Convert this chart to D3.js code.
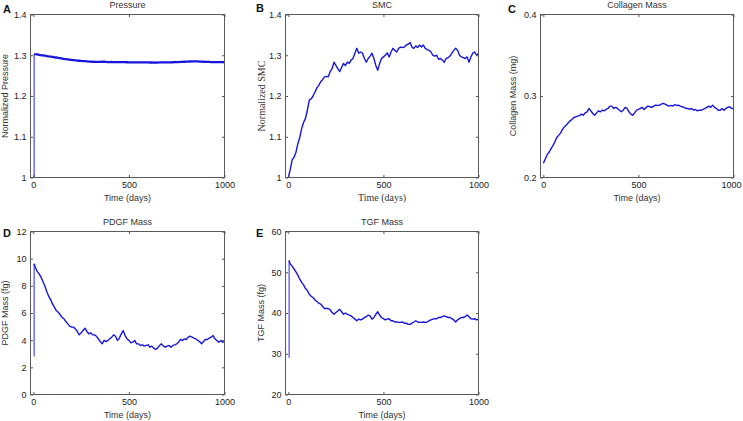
<!DOCTYPE html>
<html><head><meta charset="utf-8">
<script src="https://cdn.jsdelivr.net/npm/d3@7"></script>
<style>
body{margin:0;background:#fff}
svg{display:block;font-family:"Liberation Sans",Arial,sans-serif}
</style>
</head><body>
<svg id="chart" width="743" height="421"></svg>
<script>
// ---------------- data ----------------
const days = [0,10,20,30,40,50,60,70,80,90,100,110,120,130,140,150,160,170,180,190,
  200,210,220,230,240,250,260,270,280,290,300,310,320,330,340,350,360,370,380,390,
  400,410,420,430,440,450,460,470,480,490,500,510,520,530,540,550,560,570,580,590,
  600,610,620,630,640,650,660,670,680,690,700,710,720,730,740,750,760,770,780,790,
  800,810,820,830,840,850,860,870,880,890,900,910,920,930,940,950,960,970,980,990,1000];
const xTickValues = [0, 500, 1000];

// initial jump (day, from, to) for panels A, D, E
const jumpDay = 4;
const pressureJump = [1.0, 1.303];
const pdgfJump = [2.8, 9.62];
const tgfJump = [29.0, 52.9];

// values for days 10..1000
const pressure = [1.3025,1.302,1.301,1.300,1.2995,1.299,1.298,1.297,1.2965,1.296,
  1.295,1.2945,1.2935,1.293,1.292,1.291,1.2905,1.290,1.289,1.2885,
  1.288,1.2875,1.287,1.2865,1.286,1.2857,1.2855,1.285,1.2845,1.2842,
  1.284,1.2838,1.2836,1.2835,1.2838,1.2842,1.284,1.2836,1.2833,1.2832,
  1.2834,1.2833,1.2830,1.2831,1.2829,1.2830,1.2833,1.2831,1.2828,1.2826,
  1.2827,1.2826,1.2825,1.2826,1.2827,1.2825,1.2826,1.2824,1.2823,1.2824,
  1.2822,1.2823,1.2821,1.2822,1.2821,1.2823,1.2824,1.2823,1.2825,1.2826,
  1.2825,1.2827,1.2828,1.2830,1.2832,1.2833,1.2836,1.2838,1.2841,1.2843,
  1.2845,1.2847,1.2849,1.2850,1.2849,1.2848,1.2846,1.2843,1.2840,1.2838,
  1.2836,1.2835,1.2833,1.2832,1.2833,1.2831,1.2830,1.2829,1.2830,1.2828];

// values for days 0..1000
const smc = [1.0,1.02,1.043,1.05,1.062,1.083,1.098,1.12,1.135,1.145,
  1.165,1.19,1.193,1.2,1.21,1.22,1.226,1.235,1.24,1.247,
  1.248,1.247,1.26,1.267,1.283,1.275,1.267,1.26,1.27,1.28,
  1.275,1.283,1.28,1.288,1.292,1.305,1.317,1.305,1.308,1.305,
  1.292,1.283,1.292,1.298,1.305,1.292,1.275,1.263,1.28,1.292,
  1.296,1.3,1.306,1.296,1.308,1.317,1.312,1.308,1.317,1.32,
  1.319,1.32,1.325,1.327,1.331,1.32,1.317,1.323,1.319,1.325,
  1.32,1.325,1.317,1.314,1.312,1.308,1.3,1.298,1.3,1.29,
  1.292,1.288,1.283,1.292,1.294,1.298,1.305,1.312,1.317,1.312,
  1.3,1.296,1.294,1.292,1.296,1.283,1.296,1.305,1.308,1.3,
  1.304];

const collagen = [0.2174,0.2227,0.228,0.231,0.235,0.239,0.2434,0.2488,0.2517,0.2545,
  0.2587,0.262,0.264,0.267,0.2694,0.271,0.2736,0.2744,0.2752,0.276,
  0.2777,0.2764,0.2793,0.2806,0.2847,0.2818,0.2785,0.2764,0.2793,0.2818,
  0.2806,0.2826,0.2818,0.2835,0.2847,0.2876,0.2876,0.2847,0.286,0.2847,
  0.2826,0.2806,0.2826,0.286,0.2847,0.2806,0.2777,0.2764,0.2793,0.2826,
  0.2835,0.2847,0.286,0.2835,0.286,0.2876,0.2868,0.286,0.2876,0.2888,
  0.2884,0.2888,0.29,0.2909,0.29,0.2888,0.2876,0.2884,0.2876,0.2893,
  0.2884,0.2888,0.2876,0.2868,0.286,0.2847,0.2847,0.2835,0.2847,0.2826,
  0.2835,0.2818,0.2826,0.2826,0.2835,0.2847,0.286,0.2876,0.286,0.2888,
  0.286,0.2847,0.2826,0.2826,0.2847,0.2826,0.2847,0.286,0.2868,0.2847,
  0.2847];

// values for days 10..1000
const pdgf = [9.37,9.06,8.88,8.64,8.32,7.98,7.58,7.24,6.99,6.67,
  6.43,6.18,6.06,5.87,5.69,5.57,5.37,5.2,5.03,4.96,
  4.96,4.83,4.64,4.39,4.54,4.71,4.88,4.64,4.47,4.54,
  4.39,4.39,4.29,4.1,3.9,3.73,3.98,3.9,3.98,4.1,
  4.22,4.39,4.29,3.98,4.15,4.47,4.71,4.34,4.1,3.98,
  3.8,3.85,3.98,3.73,3.73,3.61,3.66,3.56,3.61,3.66,
  3.48,3.56,3.41,3.31,3.41,3.61,3.73,3.56,3.48,3.56,
  3.61,3.48,3.61,3.66,3.73,3.85,4.05,3.98,4.1,4.05,
  4.22,4.29,4.22,4.15,4.1,3.98,3.9,3.73,3.9,4.05,
  4.05,4.15,4.22,4.34,4.1,3.98,3.85,3.98,3.85,3.9];

const tgf = [52.0,51.5,50.8,50.1,49.3,48.3,47.5,46.9,46.0,45.5,
  44.6,44.1,43.8,43.2,42.8,42.4,42.2,41.6,41.1,41.1,
  41.1,40.8,40.1,39.7,40.1,40.5,40.9,40.3,39.7,40.0,
  39.7,39.5,39.3,38.9,38.5,38.1,38.5,38.3,38.5,38.9,
  39.1,39.5,39.3,38.5,38.9,39.7,40.3,39.5,38.9,38.6,
  38.3,38.5,38.6,38.1,38.1,37.8,37.8,37.7,37.7,37.8,
  37.5,37.5,37.2,37.2,37.5,37.8,38.1,37.8,37.7,37.7,
  37.8,37.7,37.8,38.1,38.3,38.5,38.6,38.6,38.9,38.9,
  39.1,39.3,39.1,38.9,38.9,38.6,38.3,37.8,38.3,38.6,
  38.9,38.9,39.1,39.5,39.1,38.6,38.5,38.6,38.3,38.5];

const pressureTicks = [1, 1.1, 1.2, 1.3, 1.4];
const smcTicks = [1, 1.1, 1.2, 1.3, 1.4];
const collagenTicks = [0.2, 0.3, 0.4];
const pdgfTicks = [0, 2, 4, 6, 8, 10, 12];
const tgfTicks = [20, 30, 40, 50, 60];

const titles = ["Pressure", "SMC", "Collagen Mass", "PDGF Mass", "TGF Mass"];
const yLabels = ["Normalized Pressure", "Normalized SMC", "Collagen Mass (mg)", "PDGF Mass (fg)", "TGF Mass (fg)"];
const letters = ["A", "B", "C", "D", "E"];

// ---------------- layout ----------------
const svg = d3.select("#chart");
const PH = 163;
const LINE = "#1616dc";
const SANS = '"Liberation Sans",Arial,sans-serif';
const SERIF = '"Liberation Serif","Times New Roman",serif';

function pts(dayArr, vals) { return vals.map((v, i) => [dayArr[i], v]); }

const panels = [
  {left: 30.5, top: 14.5, pw: 194, ticks: pressureTicks, data: [[jumpDay, pressureJump[1]]].concat(pts(days.slice(1), pressure)),
   jump: pressureJump, sw: 2.3, ylOff: 22.2, serif: false, letterX: 3, letterY: 12.7, lastDx: 0},
  {left: 285.5, top: 14.5, pw: 193, ticks: smcTicks, data: pts(days, smc), jump: null, sw: 1.4, ylOff: 20.5, serif: true, letterX: 256, letterY: 12, lastDx: 0},
  {left: 540.5, top: 14.5, pw: 193, ticks: collagenTicks, data: pts(days, collagen), jump: null, sw: 1.4, ylOff: 24.5, serif: false, letterX: 508, letterY: 12.7, lastDx: -2.5},
  {left: 30.5, top: 231.5, pw: 194, ticks: pdgfTicks, data: [[jumpDay, pdgfJump[1]]].concat(pts(days.slice(1), pdgf)),
   jump: pdgfJump, sw: 1.4, ylOff: 22.5, serif: false, letterX: 3, letterY: 237.3, lastDx: 0},
  {left: 285.5, top: 231.5, pw: 193, ticks: tgfTicks, data: [[jumpDay, tgfJump[1]]].concat(pts(days.slice(1), tgf)),
   jump: tgfJump, sw: 1.4, ylOff: 21.5, serif: false, letterX: 256, letterY: 237.3, lastDx: 0}
];

const fmt = d3.format("~g");

panels.forEach((p, i) => {
  const PW = p.pw;
  const g = svg.append("g").attr("transform", `translate(${p.left},${p.top})`);
  const x = d3.scaleLinear().domain([-15, 1000]).range([0, PW]);
  const y = d3.scaleLinear().domain([p.ticks[0], p.ticks[p.ticks.length - 1]]).range([PH, 0]);

  const line = d3.line().x(d => x(d[0])).y(d => y(d[1]));
  if (p.jump) {
    g.append("path").attr("d", line([[jumpDay, p.jump[0]], [jumpDay, p.jump[1]]]))
      .attr("fill", "none").attr("stroke", "#3a3ae6").attr("stroke-width", 1.1);
  }
  g.append("path").attr("d", line(p.data)).attr("fill", "none")
    .attr("stroke", LINE).attr("stroke-width", p.sw).attr("stroke-linejoin", "round");

  const axL = d3.axisLeft(y).tickValues(p.ticks).tickFormat(fmt).tickSize(-2.5).tickPadding(4);
  const axR = d3.axisRight(y).tickValues(p.ticks).tickFormat("").tickSize(-2.5);
  const axB = d3.axisBottom(x).tickValues(xTickValues).tickFormat(fmt).tickSize(-2.5).tickPadding(4.5);
  const axT = d3.axisTop(x).tickValues(xTickValues).tickFormat("").tickSize(-2.5);
  [[axL, 0, 0], [axR, PW, 0], [axB, 0, PH], [axT, 0, 0]].forEach(([ax, tx, ty], k) => {
    const a = g.append("g").attr("transform", `translate(${tx},${ty})`).call(ax);
    a.select(".domain").remove();
    a.selectAll("line").attr("stroke", "#555");
    a.attr("font-family", SANS).attr("font-size", 9);
    a.selectAll("text").attr("fill", "#222");
    if (k === 2 && p.lastDx) {
      a.selectAll("text").filter(d => d === 1000).attr("dx", p.lastDx);
    }
  });
  g.append("rect").attr("width", PW).attr("height", PH).attr("fill", "none").attr("stroke", "#5a5a5a").attr("stroke-width", 1);

  g.append("text").attr("x", PW / 2).attr("y", -6.5).attr("text-anchor", "middle")
    .attr("font-family", SANS).attr("font-size", 9).attr("fill", "#333").text(titles[i]);
  const xl = g.append("text").attr("x", PW / 2).attr("y", PH + 23).attr("text-anchor", "middle")
    .attr("fill", "#333").text("Time (days)");
  const yl = g.append("text").attr("transform", `translate(${-p.ylOff},${PH / 2}) rotate(-90)`)
    .attr("text-anchor", "middle").attr("fill", "#333").text(yLabels[i]);
  if (p.serif) {
    xl.attr("font-family", SERIF).attr("font-size", 10);
    yl.attr("font-family", SERIF).attr("font-size", 10);
  } else {
    xl.attr("font-family", SANS).attr("font-size", 9);
    yl.attr("font-family", SANS).attr("font-size", 9);
  }
  svg.append("text").attr("x", p.letterX).attr("y", p.letterY).attr("font-family", SANS).attr("font-size", 11)
    .attr("font-weight", "bold").attr("fill", "#111").text(letters[i]);
});
</script>
</body></html>
